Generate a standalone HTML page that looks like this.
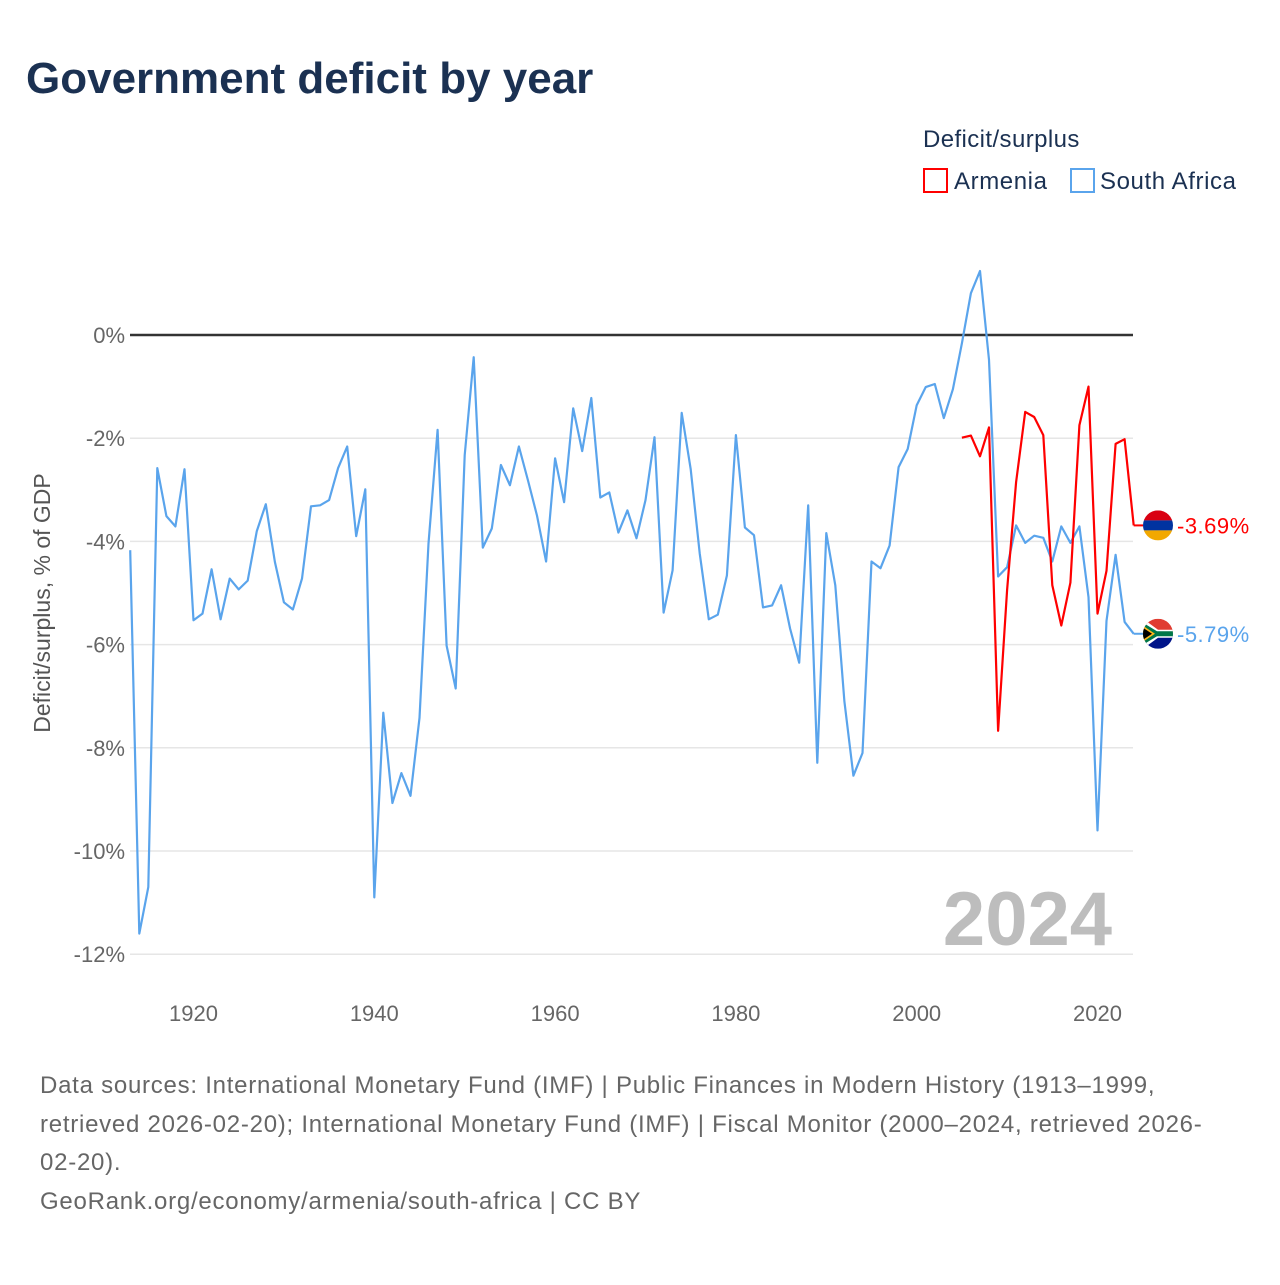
<!DOCTYPE html>
<html><head><meta charset="utf-8"><style>
body{margin:0;background:#fff;font-family:"Liberation Sans",sans-serif;}
svg text{font-family:"Liberation Sans",sans-serif;}
</style></head><body>
<svg id="chart" width="1280" height="1280" viewBox="0 0 1280 1280">
<text x="26" y="93" font-size="44" font-weight="bold" fill="#1b3152">Government deficit by year</text>
<text x="923" y="147" font-size="24" fill="#1b3152" letter-spacing="0.4">Deficit/surplus</text>
<g>
<rect x="924" y="169" width="23" height="23" fill="none" stroke="#f00" stroke-width="2"/>
<text x="954" y="189" font-size="24" fill="#1b3152" letter-spacing="0.6">Armenia</text></g>
<g>
<rect x="1071" y="169" width="23" height="23" fill="none" stroke="#5aa4ec" stroke-width="2"/>
<text x="1100" y="189" font-size="24" fill="#1b3152" letter-spacing="0.6">South Africa</text></g>
<g id="grid"></g>
<g id="yticks"></g>
<g id="xticks"></g>
<text transform="translate(50,603) rotate(-90)" text-anchor="middle" font-size="23" fill="#555">Deficit/surplus, % of GDP</text>
<text x="1112" y="945" text-anchor="end" font-size="76" font-weight="bold" fill="#bdbdbd">2024</text>
<g id="series"></g>
<g id="ends"></g>
<g font-size="24" fill="#666" letter-spacing="0.75">
<text x="40" y="1093">Data sources: International Monetary Fund (IMF) | Public Finances in Modern History (1913–1999,</text>
<text x="40" y="1132">retrieved 2026-02-20); International Monetary Fund (IMF) | Fiscal Monitor (2000–2024, retrieved 2026-</text>
<text x="40" y="1170">02-20).</text>
<text x="40" y="1209">GeoRank.org/economy/armenia/south-africa | CC BY</text>
</g>
</svg>
<script>
const yTicks=[0,-2,-4,-6,-8,-10,-12];
const xTicks=[1920,1940,1960,1980,2000,2020];
const saStart=1913;
const saValues=[-4.17,-11.6,-10.7,-2.58,-3.51,-3.71,-2.6,-5.53,-5.4,-4.54,-5.51,-4.72,-4.93,-4.76,-3.8,-3.28,-4.4,-5.18,-5.32,-4.72,-3.32,-3.3,-3.2,-2.58,-2.16,-3.9,-2.99,-10.9,-7.32,-9.07,-8.49,-8.93,-7.42,-4.04,-1.84,-6.02,-6.85,-2.33,-0.43,-4.12,-3.75,-2.52,-2.91,-2.16,-2.82,-3.5,-4.39,-2.39,-3.24,-1.42,-2.25,-1.22,-3.15,-3.05,-3.83,-3.4,-3.94,-3.2,-1.98,-5.38,-4.56,-1.51,-2.6,-4.23,-5.51,-5.42,-4.66,-1.94,-3.73,-3.88,-5.28,-5.24,-4.85,-5.69,-6.35,-3.3,-8.29,-3.84,-4.85,-7.1,-8.54,-8.1,-4.39,-4.52,-4.08,-2.56,-2.21,-1.36,-1.01,-0.95,-1.61,-1.05,-0.16,0.81,1.24,-0.48,-4.68,-4.5,-3.69,-4.03,-3.89,-3.93,-4.39,-3.71,-4.03,-3.71,-5.08,-9.6,-5.54,-4.26,-5.56,-5.79];
const amStart=2005;
const amValues=[-1.99,-1.95,-2.35,-1.79,-7.67,-4.94,-2.85,-1.49,-1.59,-1.94,-4.85,-5.63,-4.8,-1.75,-1.0,-5.4,-4.57,-2.11,-2.02,-3.69];
const endLabels=["-3.69%","-5.79%"];
const X=y=>193.5+(y-1920)*9.04;
const Y=v=>335-v*51.6;
const NS="http://www.w3.org/2000/svg";
function mk(t,a,p){const e=document.createElementNS(NS,t);for(const k in a)e.setAttribute(k,a[k]);p.appendChild(e);return e;}
const grid=document.getElementById('grid'),yt=document.getElementById('yticks'),xt=document.getElementById('xticks');
yTicks.forEach(v=>{
 if(v!==0){const l=mk('line',{x1:130,x2:1133,y1:Y(v),y2:Y(v),stroke:'#e6e6e6','stroke-width':1.5},grid);
 
 }
 const t=mk('text',{x:125,y:Y(v)+8,'text-anchor':'end','font-size':22,fill:'#666'},yt);
 t.textContent=v+'%';
 
 
});
xTicks.forEach(v=>{
 const t=mk('text',{x:X(v),y:1021,'text-anchor':'middle','font-size':22,fill:'#666'},xt);
 t.textContent=v;
 
 
});
const s=document.getElementById('series');
const zero=mk('line',{x1:130,x2:1133,y1:Y(0),y2:Y(0),stroke:'#333','stroke-width':2.5},s);


function line(start,vals,color,name){
 const pts=vals.map((v,i)=>X(start+i).toFixed(1)+','+Y(v).toFixed(1));
 const p=mk('polyline',{points:pts.join(' '),fill:'none',stroke:color,'stroke-width':2.2,'stroke-linejoin':'round'},s);
 
 
 return Y(vals[vals.length-1]);
}
const ySA=line(saStart,saValues,'#5aa4ec','south-africa-line');
const yAM=line(amStart,amValues,'#ff0000','armenia-line');
const ends=document.getElementById('ends');
function endLab(y,color,txt,name,flag){
 const x=X(2024);
 mk('line',{x1:x,x2:1143,y1:y,y2:y,stroke:color,'stroke-width':2},ends);
 const g=mk('g',{},ends);
 
 
 flag(g,1158,y);
 const t=mk('text',{x:1177,y:y+8,'font-size':22,fill:color,'letter-spacing':0.5},ends);
 t.textContent=txt;
 
 
}
endLab(yAM,'#ff0000',endLabels[0],'armenia',(g,cx,cy)=>{
 const cp=mk('clipPath',{id:'ca'},g);mk('circle',{cx:cx,cy:cy,r:15},cp);
 const h=mk('g',{'clip-path':'url(#ca)'},g);
 mk('rect',{x:cx-15,y:cy-15,width:30,height:10,fill:'#d90012'},h);
 mk('rect',{x:cx-15,y:cy-5,width:30,height:10,fill:'#0033a0'},h);
 mk('rect',{x:cx-15,y:cy+5,width:30,height:10,fill:'#f2a800'},h);
});
endLab(ySA,'#5aa4ec',endLabels[1],'south-africa',(g,cx,cy)=>{
 const cp=mk('clipPath',{id:'cs'},g);mk('circle',{cx:cx,cy:cy,r:15},cp);
 const h=mk('g',{'clip-path':'url(#cs)'},g);
 mk('rect',{x:cx-15,y:cy-15,width:30,height:15,fill:'#e03c31'},h);
 mk('rect',{x:cx-15,y:cy,width:30,height:15,fill:'#001489'},h);
 mk('polygon',{points:`${cx-15},${cy-15} ${cx},${cy-4} ${cx+15},${cy-4} ${cx+15},${cy+4} ${cx},${cy+4} ${cx-15},${cy+15}`,fill:'#fff'},h);
 mk('polygon',{points:`${cx-15},${cy-11} ${cx-1},${cy-2.5} ${cx+15},${cy-2.5} ${cx+15},${cy+2.5} ${cx-1},${cy+2.5} ${cx-15},${cy+11}`,fill:'#007749'},h);
 mk('polygon',{points:`${cx-15},${cy-8} ${cx-3},${cy} ${cx-15},${cy+8}`,fill:'#ffb81c'},h);
 mk('polygon',{points:`${cx-15},${cy-6} ${cx-6},${cy} ${cx-15},${cy+6}`,fill:'#000'},h);
});
</script>
</body></html>
